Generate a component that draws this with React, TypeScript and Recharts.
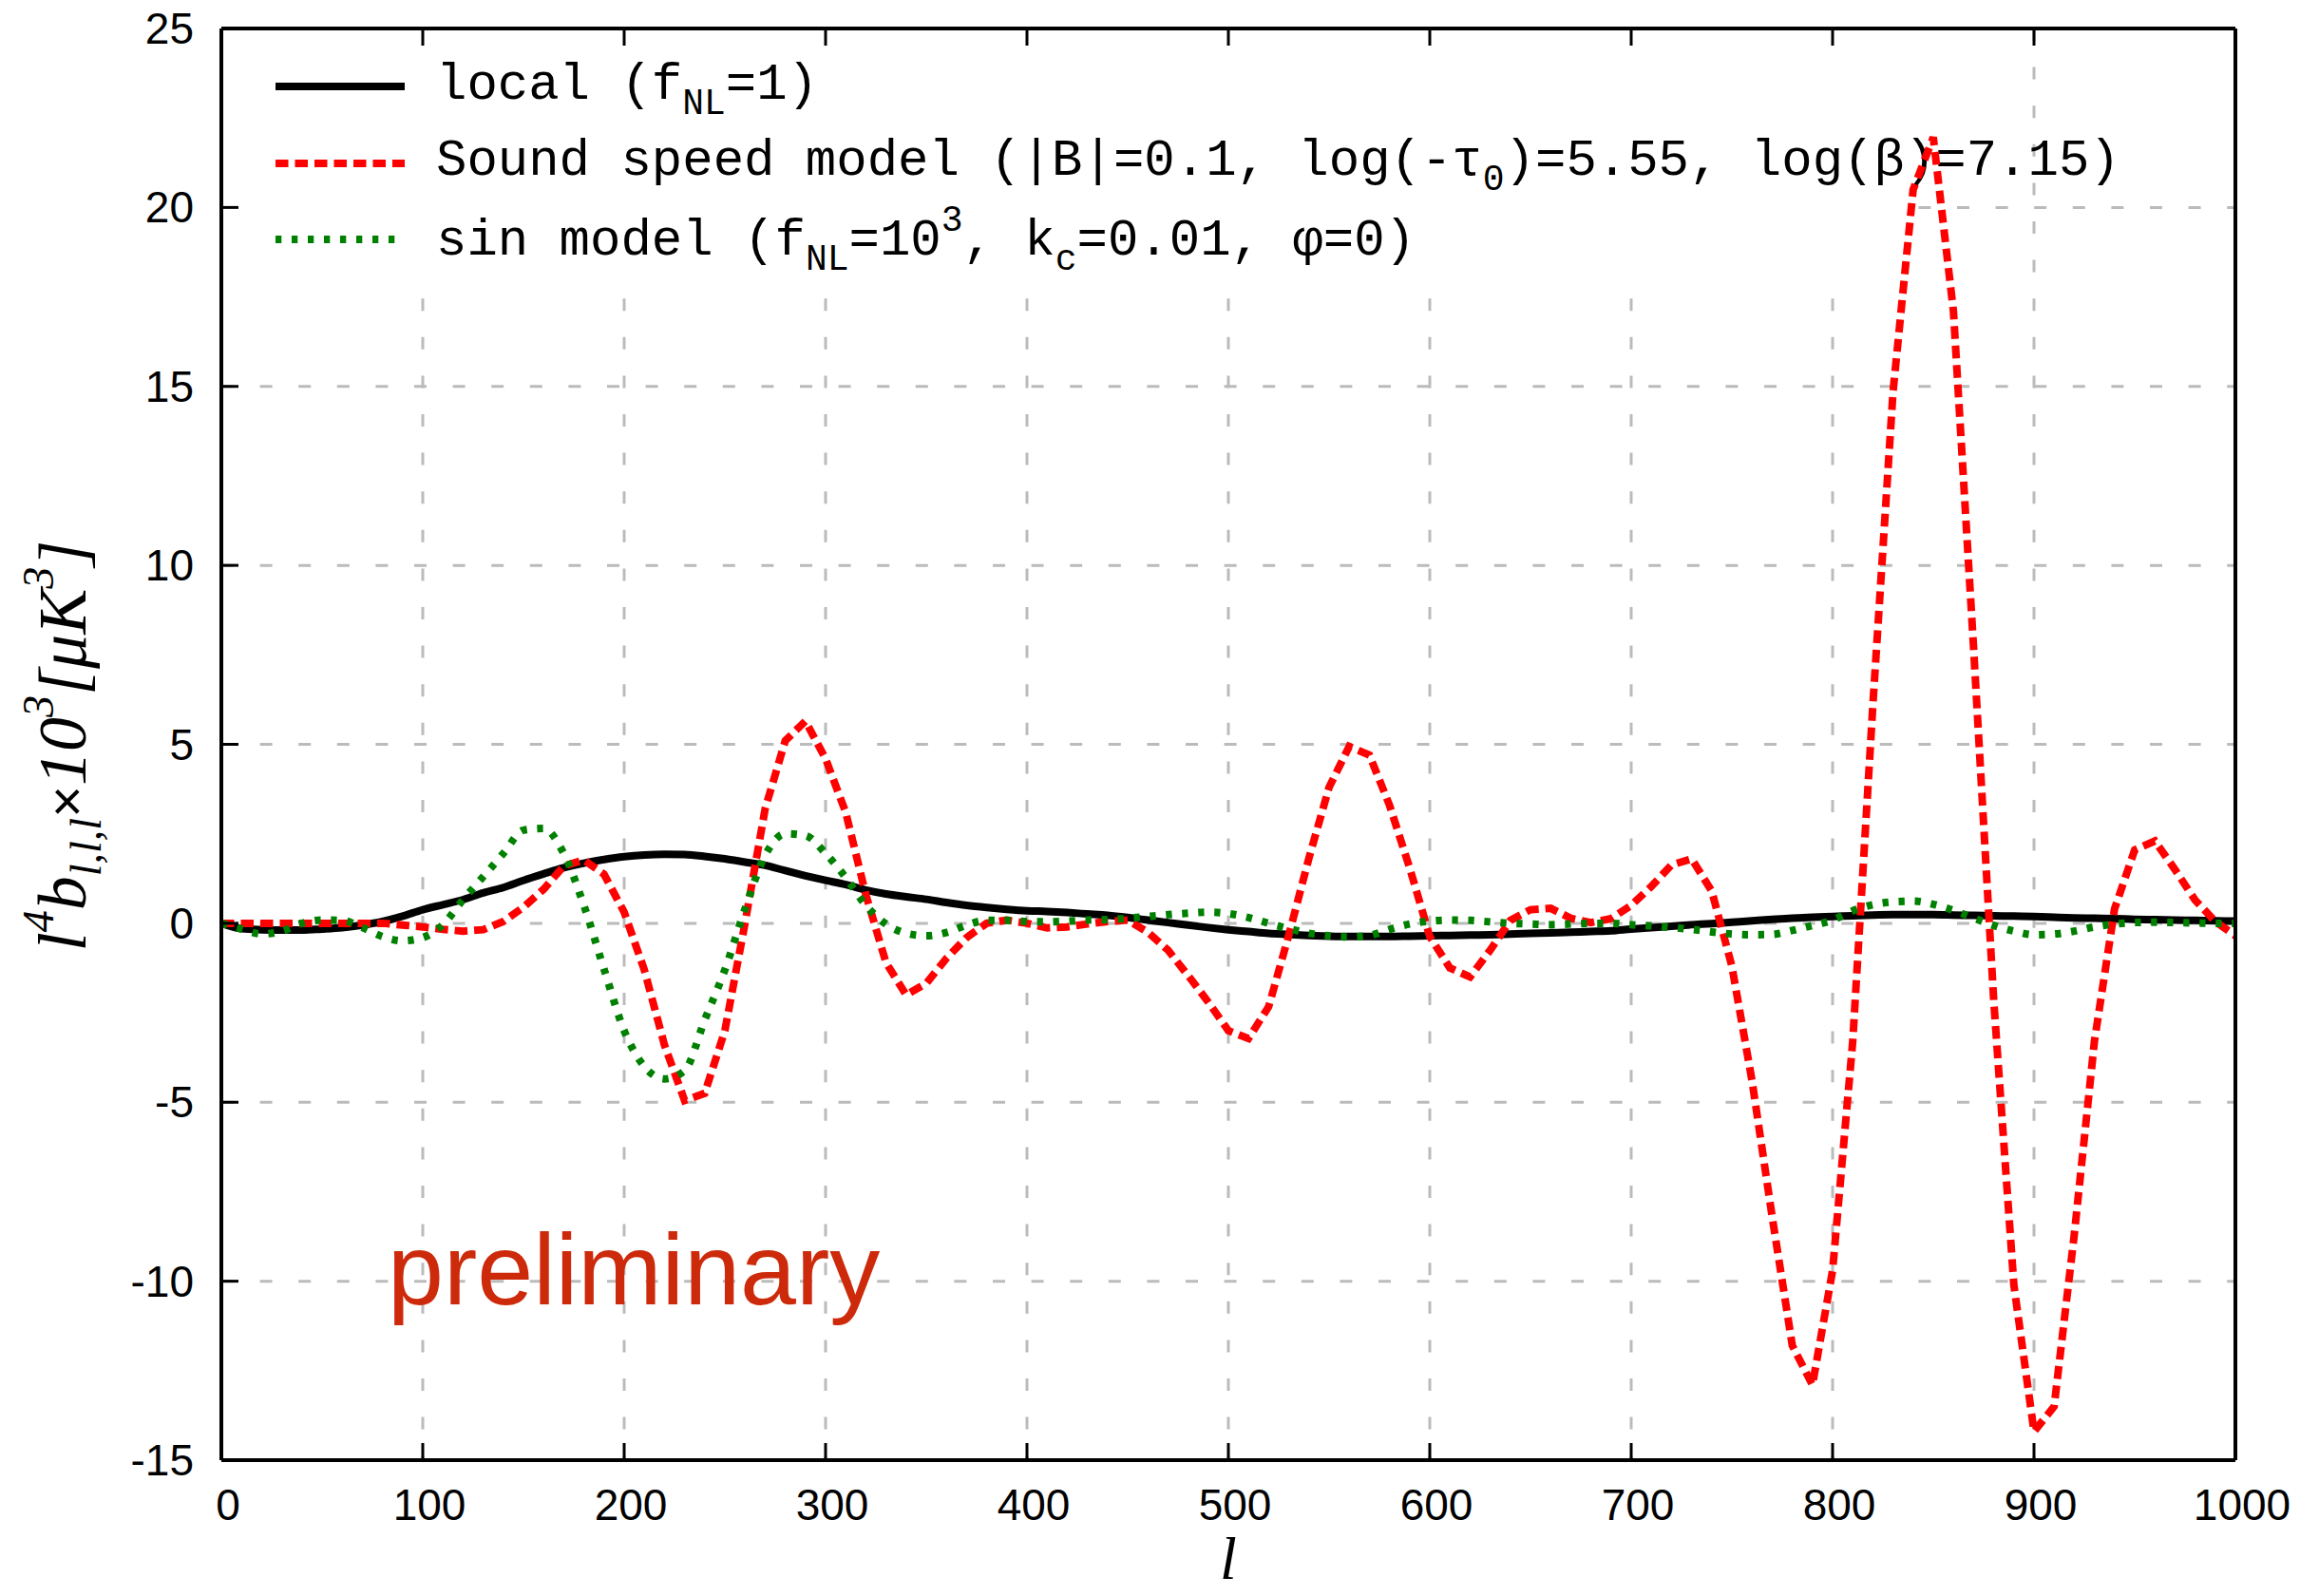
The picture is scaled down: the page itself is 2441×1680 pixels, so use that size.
import React from "react";
import {
  CartesianGrid,
  Line,
  LineChart,
  ReferenceArea,
  XAxis,
  YAxis,
} from "recharts";

// multipole l, sampled every 10
const ells = [
  0, 10, 20, 30, 40, 50, 60, 70, 80, 90, 100, 110, 120, 130, 140, 150, 160,
  170, 180, 190, 200, 210, 220, 230, 240, 250, 260, 270, 280, 290, 300, 310,
  320, 330, 340, 350, 360, 370, 380, 390, 400, 410, 420, 430, 440, 450, 460,
  470, 480, 490, 500, 510, 520, 530, 540, 550, 560, 570, 580, 590, 600, 610,
  620, 630, 640, 650, 660, 670, 680, 690, 700, 710, 720, 730, 740, 750, 760,
  770, 780, 790, 800, 810, 820, 830, 840, 850, 860, 870, 880, 890, 900, 910,
  920, 930, 940, 950, 960, 970, 980, 990, 1000,
];

// local (fNL=1)
const localVals = [
  0, -0.15, -0.18, -0.19, -0.19, -0.16, -0.12, -0.05, 0.05, 0.2, 0.38, 0.52,
  0.66, 0.85, 1.0, 1.2, 1.38, 1.55, 1.68, 1.78, 1.86, 1.91, 1.93, 1.92, 1.87,
  1.8, 1.71, 1.62, 1.47, 1.33, 1.2, 1.08, 0.93, 0.82, 0.74, 0.67, 0.58, 0.5,
  0.44, 0.39, 0.35, 0.33, 0.3, 0.26, 0.22, 0.16, 0.09, 0.02, -0.05, -0.12,
  -0.18, -0.23, -0.28, -0.31, -0.34, -0.36, -0.37, -0.37, -0.37, -0.36, -0.35,
  -0.34, -0.33, -0.32, -0.3, -0.28, -0.27, -0.25, -0.23, -0.21, -0.16, -0.12,
  -0.08, -0.04, -0.01, 0.03, 0.07, 0.11, 0.14, 0.17, 0.19, 0.21, 0.23, 0.24,
  0.24, 0.24, 0.23, 0.22, 0.21, 0.2, 0.19, 0.17, 0.15, 0.14, 0.13, 0.11, 0.1,
  0.09, 0.08, 0.07, 0.06,
];

// sound speed model
const soundVals = [
  0, 0, 0, 0, 0, 0, 0, 0, 0, -0.05, -0.1, -0.17, -0.22, -0.18, 0.05, 0.45,
  0.95, 1.6, 1.77, 1.37, 0.31, -1.3, -3.4, -4.95, -4.75, -3.0, 0.0, 3.2, 5.1,
  5.65, 4.6, 3.1, 0.8, -1.1, -2.0, -1.68, -0.98, -0.4, 0.0, 0.09, 0.0, -0.13,
  -0.1, -0.02, 0.05, 0.09, -0.25, -0.75, -1.46, -2.2, -3.0, -3.22, -2.33,
  -0.33, 1.82, 3.8, 4.94, 4.7, 3.3, 1.55, -0.37, -1.25, -1.5, -0.75, 0.08,
  0.38, 0.42, 0.14, 0.02, 0.13, 0.5, 1.03, 1.63, 1.8, 0.9, -1.2, -4.4, -8.2,
  -11.8, -12.9, -9.7, -3.3, 6.1, 14.84, 20.5, 21.96, 17.1, 7.7, -2.15, -10.1,
  -14.2, -13.5, -8.7, -3.3, 0.4, 2.05, 2.3, 1.5, 0.65, 0.05, -0.35,
];

// sin model
const sinVals = [
  0, -0.16, -0.3, -0.22, 0.0, 0.09, 0.08, -0.12, -0.37, -0.49, -0.4, -0.04,
  0.66, 1.3, 1.95, 2.6, 2.65, 1.95, 0.5, -1.28, -3.0, -4.0, -4.35, -4.12, -2.7,
  -1.3, 0.4, 1.9, 2.5, 2.45, 1.95, 1.28, 0.5, -0.02, -0.28, -0.35, -0.26,
  -0.05, 0.08, 0.08, 0.05, 0.04, 0.06, 0.09, 0.1, 0.14, 0.19, 0.24, 0.28, 0.31,
  0.27, 0.16, 0.0, -0.15, -0.28, -0.35, -0.38, -0.34, -0.17, -0.02, 0.06, 0.09,
  0.08, 0.04, 0.0, -0.02, -0.04, -0.02, 0.0, 0.0, -0.04, -0.07, -0.12, -0.17,
  -0.24, -0.3, -0.32, -0.31, -0.2, -0.06, 0.09, 0.35, 0.52, 0.6, 0.62, 0.53,
  0.36, 0.15, -0.06, -0.22, -0.32, -0.3, -0.22, -0.1, -0.02, 0.02, 0.03, 0.02,
  0.01, 0.0, 0.0,
];

const xTicks = [0, 100, 200, 300, 400, 500, 600, 700, 800, 900, 1000];
const yTicks = [-15, -10, -5, 0, 5, 10, 15, 20, 25];

const data = ells.map((l, i) => ({
  l,
  local: localVals[i],
  sound: soundVals[i],
  sin: sinVals[i],
}));

// plot frame in page pixels
const W = 2441;
const H = 1680;
const L = 233;
const R = 2353;
const T = 30;
const B = 1537;
const TICK = 18;

const sans = "'Liberation Sans', Arial, Helvetica, sans-serif";
const mono = "'Liberation Mono', 'Courier New', monospace";
const serif = "'Liberation Serif', 'Times New Roman', serif";

const BottomTick = (props: any) => {
  const { x, payload } = props;
  return (
    <g>
      <line x1={x} x2={x} y1={B} y2={B - TICK} stroke="#000" strokeWidth={3} />
      <text x={x + 7} y={1600} textAnchor="middle" fontFamily={sans} fontSize={46} fill="#000">
        {payload.value}
      </text>
    </g>
  );
};

const TopTick = (props: any) => {
  const { x } = props;
  return <line x1={x} x2={x} y1={T} y2={T + TICK} stroke="#000" strokeWidth={3} />;
};

const LeftTick = (props: any) => {
  const { y, payload } = props;
  return (
    <g>
      <line x1={L} x2={L + TICK} y1={y} y2={y} stroke="#000" strokeWidth={3} />
      <text x={204} y={y + 16} textAnchor="end" fontFamily={sans} fontSize={46} fill="#000">
        {payload.value}
      </text>
    </g>
  );
};

const RightTick = (props: any) => {
  const { y } = props;
  return <line x1={R} x2={R - TICK} y1={y} y2={y} stroke="#000" strokeWidth={3} />;
};

// opaque key box, drawn under the curves
const KeyBox = (props: any) => {
  const { x, y, width, height } = props;
  const sx0 = 290;
  const sx1 = 426;
  return (
    <g>
      <rect x={x} y={y} width={width} height={height} fill="#fff" />
      <line x1={sx0} x2={sx1} y1={91} y2={91} stroke="#000" strokeWidth={8} />
      <line x1={sx0} x2={sx1} y1={172} y2={172} stroke="#ff0000" strokeWidth={8} strokeDasharray="13.5 7" />
      <line x1={sx0} x2={sx1} y1={252} y2={252} stroke="#008000" strokeWidth={8} strokeDasharray="6.3 10.7" />
      <g fontFamily={mono} fontSize={54} fill="#000">
        <text x={459} y={104}>
          local (f<tspan fontSize={38} dy={16}>NL</tspan>
          <tspan dy={-16}>=1)</tspan>
        </text>
        <text x={459} y={184}>
          Sound speed model (|B|=0.1, log(-τ<tspan fontSize={38} dy={16}>0</tspan>
          <tspan dy={-16}>)=5.55, log(β)=7.15)</tspan>
        </text>
        <text x={459} y={268}>
          sin model (f<tspan fontSize={38} dy={16}>NL</tspan>
          <tspan dy={-16}>=10</tspan>
          <tspan fontSize={38} dy={-25}>3</tspan>
          <tspan dy={25}>, k</tspan>
          <tspan fontSize={38} dy={16}>c</tspan>
          <tspan dy={-16}>=0.01, φ=0)</tspan>
        </text>
      </g>
    </g>
  );
};

export default function App() {
  return (
    <div style={{ position: "absolute", left: 0, top: 0, width: W, height: H, background: "#fff" }}>
      <LineChart
        width={W}
        height={H}
        data={data}
        margin={{ top: 20, right: 68, bottom: 63, left: 113 }}
      >
        <CartesianGrid
          stroke="#bbbbbb"
          strokeWidth={3}
          strokeDasharray="13 27.6"
          xAxisId="bottom"
          yAxisId="left"
        />
        <XAxis
          xAxisId="bottom"
          dataKey="l"
          type="number"
          domain={[0, 1000]}
          ticks={xTicks}
          interval={0}
          height={80}
          axisLine={{ stroke: "#000", strokeWidth: 4 }}
          tickLine={false}
          tick={<BottomTick />}
        />
        <XAxis
          xAxisId="top"
          orientation="top"
          dataKey="l"
          type="number"
          domain={[0, 1000]}
          ticks={xTicks}
          interval={0}
          height={10}
          axisLine={{ stroke: "#000", strokeWidth: 4 }}
          tickLine={false}
          tick={<TopTick />}
        />
        <YAxis
          yAxisId="left"
          type="number"
          domain={[-15, 25]}
          ticks={yTicks}
          interval={0}
          width={120}
          axisLine={{ stroke: "#000", strokeWidth: 4 }}
          tickLine={false}
          tick={<LeftTick />}
        />
        <YAxis
          yAxisId="right"
          orientation="right"
          type="number"
          domain={[-15, 25]}
          ticks={yTicks}
          interval={0}
          width={20}
          axisLine={{ stroke: "#000", strokeWidth: 4 }}
          tickLine={false}
          tick={<RightTick />}
        />
        <ReferenceArea
          xAxisId="bottom"
          yAxisId="left"
          x1={0}
          x2={833}
          y1={18.1}
          y2={25}
          shape={(p: any) => <KeyBox {...p} />}
        />
        <Line
          xAxisId="bottom"
          yAxisId="left"
          dataKey="local"
          type="monotone"
          stroke="#000"
          strokeWidth={8}
          dot={false}
          activeDot={false}
          isAnimationActive={false}
        />
        <Line
          xAxisId="bottom"
          yAxisId="left"
          dataKey="sound"
          type="linear"
          stroke="#ff0000"
          strokeWidth={8}
          strokeDasharray="13.5 7"
          dot={false}
          activeDot={false}
          isAnimationActive={false}
        />
        <Line
          xAxisId="bottom"
          yAxisId="left"
          dataKey="sin"
          type="monotone"
          stroke="#008000"
          strokeWidth={8}
          strokeDasharray="6.3 10.7"
          dot={false}
          activeDot={false}
          isAnimationActive={false}
        />
      </LineChart>
      <svg
        width={W}
        height={H}
        style={{ position: "absolute", left: 0, top: 0, pointerEvents: "none" }}
      >
        <text x={408} y={1373} fontFamily={sans} fontSize={106} fill="#cc2a0a">
          preliminary
        </text>
        <text x={1293} y={1662} textAnchor="middle" fontFamily={serif} fontStyle="italic" fontSize={64}>
          l
        </text>
        <text
          transform="translate(90,785) rotate(-90)"
          textAnchor="middle"
          fontFamily={serif}
          fontStyle="italic"
          fontSize={72}
          fill="#000"
        >
          l<tspan fontSize={46} dy={-34}>4</tspan>
          <tspan dy={34}>b</tspan>
          <tspan fontSize={46} dy={16}>l,l,l</tspan>
          <tspan dy={-16} fontStyle="normal" fontFamily={sans} fontSize={58}>×</tspan>
          <tspan>10</tspan>
          <tspan fontSize={46} dy={-34}>3</tspan>
          <tspan dy={34}>[μK</tspan>
          <tspan fontSize={46} dy={-34}>3</tspan>
          <tspan dy={34}>]</tspan>
        </text>
      </svg>
    </div>
  );
}
